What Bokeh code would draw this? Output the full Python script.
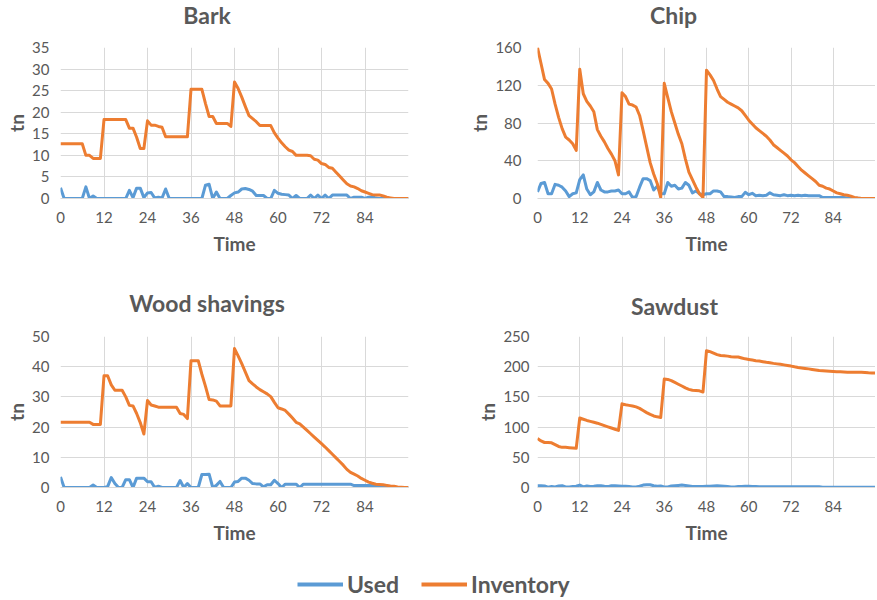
from bokeh.plotting import figure
from bokeh.models import Range1d, FixedTicker, Legend, LegendItem
from bokeh.core.properties import value
from bokeh.layouts import column, row
from bokeh.embed import file_html
from bokeh.resources import INLINE

time = list(range(97))
x_ticks = [0, 12, 24, 36, 48, 60, 72, 84]
x_grid = [0, 12, 24, 36, 48, 60, 72, 84, 96]
panel_titles = ["Bark", "Chip", "Wood shavings", "Sawdust"]
series_names = ["Used", "Inventory"]

bark_used = [2.5, 0, 0, 0, 0, 0, 0, 2.7, 0, 0.6, 0, 0, 0, 0, 0, 0, 0, 0, 0, 1.9,
             0.2, 2.4, 2.4, 0.2, 1.3, 1.4, 0.1, 0.3, 0.1, 2.2, 0, 0, 0, 0, 0, 0, 0, 0, 0, 0,
             3.1, 3.3, 0, 1.5, 0, 0, 0, 0.7, 1.3, 1.5, 2.2, 2.3, 2.1, 1.7, 0.7, 0.7, 0.7, 0, 0, 1.9,
             1.2, 1.0, 0.9, 0.8, 0, 0.7, 0, 0, 0, 0.8, 0, 0.8, 0, 0.8, 0, 0.8, 0.8, 0.8, 0.8, 0.8,
             0, 0.3, 0.3, 0.3, 0, 0.3, 0.4, 0.1, 0, 0, 0, 0, 0, 0, 0, 0, 0]
bark_inv = [12.7, 12.7, 12.7, 12.7, 12.7, 12.7, 12.7, 10.0, 10.0, 9.3, 9.3, 9.3, 18.3, 18.3, 18.3, 18.3, 18.3, 18.3, 18.3, 16.3,
            16.3, 14.2, 11.6, 11.6, 18.0, 17.0, 17.0, 16.7, 16.5, 14.3, 14.3, 14.3, 14.3, 14.3, 14.3, 14.3, 25.3, 25.3, 25.3, 25.3,
            22.0, 19.0, 19.0, 17.4, 17.4, 17.4, 17.4, 16.7, 27.0, 25.5, 23.5, 21.3, 19.2, 18.5, 17.8, 16.9, 16.9, 16.9, 16.9, 15.2,
            14.0, 12.9, 12.0, 11.2, 10.9, 10.0, 10.0, 10.0, 10.0, 9.9, 9.1, 8.9, 8.1, 7.9, 7.2, 7.0, 6.1, 5.2, 4.3, 3.4,
            2.9, 2.7, 2.3, 1.8, 1.5, 1.2, 0.9, 0.8, 0.8, 0.6, 0.3, 0.15, 0, 0, 0, 0, 0]

chip_used = [7, 16, 17, 5, 5, 15, 14, 12, 8, 2, 5, 6, 20, 25, 10, 4, 7, 17, 9, 7,
             7, 8, 8, 9, 5, 5, 7, 1, 2, 12, 21, 21, 19, 9, 13, 5, 5, 17, 13, 14,
             10, 11, 17, 14, 6, 8, 5, 4, 5, 5, 8, 8, 7, 2, 2, 1.5, 1, 2, 2, 6.5,
             4, 5.5, 3, 3.5, 3, 3.5, 6, 4, 3.5, 3, 4, 3, 3.5, 3, 3.5, 3, 3.5, 3, 3, 3,
             3, 1, 1, 1, 1, 1, 1, 1, 0.5, 0.5, 0.3, 0.2, 0.1, 0, 0, 0, 0]
chip_inv = [160, 143, 126, 122, 116, 100, 86, 74, 65, 62, 58, 51, 137, 111, 103, 98, 92, 73, 66, 60,
            53, 47, 40, 25, 112, 108, 100, 99, 97, 88, 72, 55, 38, 26, 16, 1, 122, 107, 92, 80,
            68, 58, 42, 28, 20, 12, 5, 1, 136, 131, 125, 116, 108, 105, 102, 100, 98, 96, 93, 88,
            83, 79, 75, 72, 69, 66, 62, 57, 54, 51, 48, 45, 41, 38, 34, 30, 27, 24, 21, 18,
            14, 13, 11, 10, 8, 6, 5, 4, 3.5, 2.5, 1.2, 0.5, 0, 0, 0, 0, 0]

wood_used = [3.5, 0, 0, 0, 0, 0, 0, 0, 0, 0.8, 0, 0, 0, 0.3, 3.3, 1.3, 0, 0, 2.6, 2.6,
             0, 3.1, 3.1, 3.1, 1.9, 1.9, 0, 0.4, 0, 0, 0, 0, 0, 2.3, 0, 1.3, 0, 0, 0, 4.3,
             4.3, 4.4, 0, 0.7, 2.0, 0, 0, 0, 1.8, 2.0, 3.1, 3.1, 2.4, 1.3, 1.2, 1.2, 0.2, 0.9, 0.9, 2.4,
             1.3, 0, 1.1, 1.1, 1.1, 1.1, 0, 1.1, 1.1, 1.1, 1.1, 1.1, 1.1, 1.1, 1.1, 1.1, 1.1, 1.1, 1.1, 1.1,
             1.1, 0.65, 0.65, 0.65, 0.65, 0.65, 0.65, 0.65, 0.65, 0.65, 0.65, 0, 0, 0, 0, 0, 0]
wood_inv = [21.6, 21.6, 21.6, 21.6, 21.6, 21.6, 21.6, 21.6, 21.6, 20.9, 20.9, 20.9, 37.0, 37.0, 34.0, 32.2, 32.2, 32.2, 30.0, 27.2,
            27.0, 24.5, 21.5, 17.7, 28.8, 27.3, 27.0, 26.6, 26.6, 26.6, 26.6, 26.6, 26.6, 24.5, 24.2, 22.8, 42.0, 42.0, 42.0, 37.5,
            33.5, 29.1, 29.0, 28.6, 27.0, 27.0, 27.0, 27.0, 46.0, 43.6, 41.0, 38.2, 35.4, 34.3, 33.3, 32.4, 31.7, 31.0, 30.1, 28.2,
            26.4, 26.0, 25.5, 24.3, 23.0, 21.6, 21.1, 20.0, 18.9, 17.8, 16.7, 15.6, 14.5, 13.4, 12.2, 11.0, 9.8, 8.6, 7.4, 6.0,
            5.0, 4.4, 3.8, 3.0, 2.4, 1.8, 1.4, 1.1, 1.0, 0.9, 0.7, 0.5, 0.4, 0.2, 0.1, 0, 0]

saw_used = [3, 3, 2.5, 0.5, 1.5, 1, 2.5, 3, 1, 1, 1.5, 2, 4, 1, 2.5, 1.5, 2, 3, 3, 2,
            1.5, 3, 3, 2.5, 2, 2, 1.5, 1, 1, 2, 4, 4.5, 4.5, 3, 2, 2.5, 1, 1, 2.5, 3,
            3.5, 4, 3.5, 2.5, 1.5, 1.5, 1.5, 1.5, 2, 2, 2.5, 3, 2.5, 2, 1.5, 1, 1, 1.5, 1.5, 2,
            2, 1.5, 1.5, 1.2, 1.2, 1.2, 1.2, 1.2, 1.2, 1.2, 1.2, 1.2, 1.2, 1.2, 1.2, 1.2, 1.2, 1.2, 1.2, 1.2,
            1.2, 0.5, 0.5, 0.5, 0.5, 0.5, 0.5, 0.5, 0.5, 0.5, 0.5, 0.5, 0.5, 0.5, 0.5, 0.5, 0.5]
saw_inv = [81, 77, 74.5, 74.5, 74, 71, 68, 66.5, 66.5, 66, 65.5, 65, 115, 113, 111, 109.5, 108, 106.5, 104.5, 102.5,
           100.5, 98.5, 96.5, 94.5, 138.5, 137, 136, 135, 133.5, 131, 127.5, 124, 121, 118.5, 117, 116, 179.5, 179, 177, 174,
           171, 168, 165, 162.5, 161, 160.5, 160, 158, 226.5, 225, 222.5, 220, 218.5, 218, 217.5, 216.5, 216, 216, 214.5, 213,
           212, 211, 210, 209.3, 208.3, 207.3, 206.5, 205.5, 204.7, 204, 203, 202, 201, 199.8, 198.8, 198, 197.2, 196.4, 195.5, 194.5,
           193.6, 193.2, 192.8, 192.5, 192.2, 191.8, 191.5, 191.2, 191, 190.8, 190.8, 190.8, 190.8, 190.5, 190, 189.7, 189.5]

FONT = "Lato"
TXT = "#595959"
GRID = "#D9D9D9"
BLUE = "#5B9BD5"
ORANGE = "#ED7D31"
TOTAL_W = 875
STRIP_H = 30


def title_strip(names, xs, ys):
    s = figure(width=TOTAL_W, height=STRIP_H, x_range=Range1d(0, TOTAL_W), y_range=Range1d(0, STRIP_H),
               output_backend="svg", toolbar_location=None, x_axis_type=None, y_axis_type=None,
               min_border=0)
    s.outline_line_color = None
    s.xgrid.visible = False
    s.ygrid.visible = False
    s.text(x=xs, y=ys, text=names, text_align="center", text_baseline="middle",
           text_font=value(FONT), text_font_size="23px", text_font_style="bold", text_color=TXT)
    return s


def panel(used, inv, ymax, ystep, w, h, bl, br, bt, bb, ylab_stand):
    p = figure(width=w, height=h, x_range=Range1d(0, 96), y_range=Range1d(0, ymax),
               output_backend="svg", toolbar_location=None,
               min_border_left=bl, min_border_right=br, min_border_top=bt, min_border_bottom=bb)
    p.outline_line_color = None
    p.background_fill_color = "white"
    p.border_fill_color = "white"

    p.line(time, used, color=BLUE, line_width=3, line_join="round")
    p.line(time, inv, color=ORANGE, line_width=3, line_join="round")

    p.xaxis.ticker = FixedTicker(ticks=x_ticks)
    p.xgrid.ticker = FixedTicker(ticks=x_grid)
    yt = list(range(0, ymax + 1, ystep))
    p.yaxis.ticker = FixedTicker(ticks=yt)
    p.ygrid.ticker = FixedTicker(ticks=yt)
    for g in (p.xgrid, p.ygrid):
        g.grid_line_color = GRID
        g.grid_line_width = 1

    for ax in (p.xaxis, p.yaxis):
        ax.major_tick_line_color = None
        ax.minor_tick_line_color = None
        ax.major_tick_out = 0
        ax.major_tick_in = 0
        ax.major_label_text_font = FONT
        ax.major_label_text_font_size = "15px"
        ax.major_label_text_color = TXT
        ax.axis_label_text_font = FONT
        ax.axis_label_text_font_size = "19px"
        ax.axis_label_text_font_style = "bold"
        ax.axis_label_text_color = TXT
    p.xaxis.axis_line_color = GRID
    p.yaxis.axis_line_color = None
    p.xaxis.axis_label = "Time"
    p.yaxis.axis_label = "tn"
    p.xaxis.major_label_standoff = 13
    p.xaxis.axis_label_standoff = 6
    p.yaxis.major_label_standoff = ylab_stand
    p.yaxis.axis_label_standoff = 1
    return p


strip1 = title_strip(panel_titles[0:2], [206.5, 673], [16, 16])
p_bark = panel(bark_used, bark_inv, 35, 5, 440, 258, 60, 32, 17, 90, 11)
p_chip = panel(chip_used, chip_inv, 160, 40, 435, 258, 97, 0, 17, 90, 16)
strip2 = title_strip(panel_titles[2:4], [206.5, 674], [16, 13])
p_wood = panel(wood_used, wood_inv, 50, 10, 440, 232, 60, 32, 18, 63, 11)
p_saw = panel(saw_used, saw_inv, 250, 50, 435, 232, 97, 0, 18, 63, 8)

# legend strip: the same series are drawn off-screen so the legend can show their line samples
leg = figure(width=TOTAL_W, height=48, x_range=Range1d(-300, -200), y_range=Range1d(-300, -200),
             output_backend="svg", toolbar_location=None, x_axis_type=None, y_axis_type=None,
             min_border=0)
leg.outline_line_color = None
leg.xgrid.visible = False
leg.ygrid.visible = False
r_used = leg.line(time, bark_used, color=BLUE, line_width=4)
r_inv = leg.line(time, bark_inv, color=ORANGE, line_width=4)
legend = Legend(items=[LegendItem(label=series_names[0], renderers=[r_used]),
                       LegendItem(label=series_names[1], renderers=[r_inv])],
                orientation="horizontal", location=(297, 0))
legend.glyph_width = 46
legend.glyph_height = 24
legend.label_height = 24
legend.label_standoff = 4
legend.spacing = 22
legend.padding = 0
legend.margin = 0
legend.border_line_color = None
legend.background_fill_alpha = 0
legend.label_text_font = FONT
legend.label_text_font_size = "23px"
legend.label_text_font_style = "bold"
legend.label_text_color = TXT
leg.add_layout(legend)

layout = column(strip1, row(p_bark, p_chip), strip2, row(p_wood, p_saw), leg)

open("out.html", "w").write(file_html(layout, INLINE))
